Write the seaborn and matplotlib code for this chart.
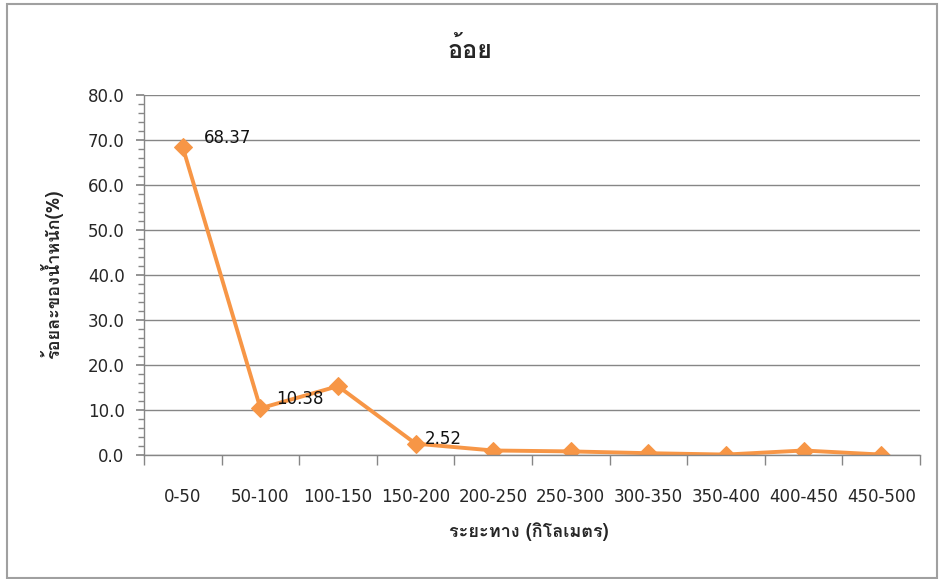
import matplotlib
matplotlib.use("Agg")
import matplotlib.pyplot as plt
import seaborn as sns
import pandas as pd
from matplotlib import font_manager
from matplotlib.ft2font import FT2Font
from matplotlib.patches import Rectangle

categories = ["0-50", "50-100", "100-150", "150-200", "200-250", "250-300",
              "300-350", "350-400", "400-450", "450-500"]
values = [68.37, 10.38, 15.3, 2.52, 1.0, 0.8, 0.4, 0.1, 1.0, 0.1]
labels_shown = {0: "68.37", 1: "10.38", 3: "2.52"}
label_offsets = {0: (15, 7), 1: (11.5, 6.5), 3: (6.5, 3.5)}

title = "อ้อย"
ylabel = "ร้อยละของน้ำหนัก(%)"
xlabel = "ระยะทาง (กิโลเมตร)"

sns.set_theme(style="white")

# find a font that covers Thai
thai_family = None
for f in font_manager.fontManager.ttflist:
    try:
        cm = FT2Font(f.fname).get_charmap()
        if 0x0E2D in cm and 0x0E49 in cm:
            thai_family = f.name
            break
    except Exception:
        pass
fams = ["DejaVu Sans"]
thai_fams = ([thai_family] if thai_family else []) + ["DejaVu Sans"]
plt.rcParams["font.family"] = fams

df = pd.DataFrame({"x": list(range(len(categories))), "y": values})

fig = plt.figure(figsize=(9.41, 5.79), dpi=100)
ax = fig.add_axes([144/941, 1-455/579, (920-144)/941, (455-95)/579])

sns.lineplot(data=df, x="x", y="y", ax=ax, color="#F79646", linewidth=2.8,
             marker="D", markersize=9, markeredgecolor="#F79646")

ax.set_xlim(-0.5, len(categories)-0.5)
ax.set_ylim(0, 80)
ax.set_yticks(range(0, 81, 10))
ax.set_yticklabels([f"{v:.1f}" for v in range(0, 81, 10)])
ax.set_yticks(range(0, 81, 2), minor=True)
ax.set_xticks(range(len(categories)))
ax.set_xticklabels(categories)
ax.set_xticks([i - 0.5 for i in range(len(categories)+1)], minor=True)

ax.grid(axis="y", which="major", color="#868686", linewidth=1)
ax.grid(axis="x", visible=False)
ax.set_axisbelow(True)

for s in ["top", "right"]:
    ax.spines[s].set_visible(False)
for s in ["left", "bottom"]:
    ax.spines[s].set_visible(True)
    ax.spines[s].set_color("#868686")
    ax.spines[s].set_linewidth(1)

ax.tick_params(axis="y", which="major", length=6, color="#868686", labelsize=12,
               labelcolor="#262626", left=True, direction="out", pad=8)
ax.tick_params(axis="y", which="minor", length=4, color="#868686", left=True, direction="out")
ax.tick_params(axis="x", which="major", length=0, labelsize=12, labelcolor="#262626", pad=24)
ax.tick_params(axis="x", which="minor", length=7, color="#868686", bottom=True, direction="out")

for i, t in labels_shown.items():
    ax.annotate(t, (i, values[i]), xytext=label_offsets[i], textcoords="offset points",
                fontsize=12, color="#111111", va="center", ha="left")

ax.set_xlabel("")
ax.set_ylabel("")
fig.text(470/941, 1-50/579, title, ha="center", va="center", fontsize=18,
         fontweight="bold", family=thai_fams)
fig.text(52/941, 1-274/579, ylabel, ha="center", va="center", rotation=90,
         fontsize=13, fontweight="bold", family=thai_fams)
fig.text(529/941, 1-532/579, xlabel, ha="center", va="center", fontsize=13,
         fontweight="bold", family=thai_fams)

fig.patches.append(Rectangle((7/941, 1/579), 930/941, 574/579, transform=fig.transFigure,
                             fill=False, edgecolor="#A0A0A0", linewidth=1.5))

fig.savefig("out.png", dpi=100)
